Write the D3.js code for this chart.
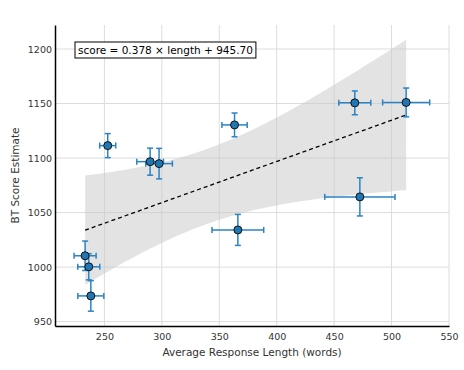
<!DOCTYPE html>
<html>
<head>
<meta charset="utf-8">
<script src="https://cdn.jsdelivr.net/npm/d3@7"></script>
<style>
  body { margin: 0; background: #fff; }
  text { font-family: "DejaVu Sans", Verdana, sans-serif; }
</style>
</head>
<body>
<script>
// response lengths (words) and BT scores per model
var lengths  = [252.9, 289.8, 297.6, 233.2, 236.4, 238.2, 366.2, 363.3, 468.0, 512.7, 472.4];
var scores   = [1111.4, 1096.7, 1094.9, 1010.4, 1000.3, 973.6, 1034.1, 1130.4, 1150.6, 1151.0, 1064.4];
var lengthErr = [7, 11.6, 11.6, 9.6, 9.6, 11.3, 22.5, 11, 13.9, 20.5, 30.6];
var scoreErr  = [11, 12.4, 14, 13.5, 12, 14, 14.2, 10.9, 10.9, 13.2, 17.5];

var slope = 0.378, intercept = 945.70;
var xTicks = [250, 300, 350, 400, 450, 500, 550];
var yTicks = [950, 1000, 1050, 1100, 1150, 1200];

var width = 464, height = 370;
var margin = {left: 55, right: 15, top: 25, bottom: 44};

var svg = d3.select("body").append("svg")
    .attr("width", width)
    .attr("height", height);

var x = d3.scaleLinear()
    .domain([207, 550])
    .range([margin.left, width - margin.right]);

var y = d3.scaleLinear()
    .domain([946, 1222])
    .range([height - margin.bottom, margin.top]);

var data = lengths.map(function (d, i) {
    return {x: d, y: scores[i], ex: lengthErr[i], ey: scoreErr[i]};
});

// grid
svg.append("g").selectAll("line")
    .data(xTicks).enter().append("line")
    .attr("x1", function (d) { return x(d); })
    .attr("x2", function (d) { return x(d); })
    .attr("y1", y.range()[0])
    .attr("y2", y.range()[1])
    .attr("stroke", "#dcdcdc")
    .attr("stroke-width", 1);

svg.append("g").selectAll("line")
    .data(yTicks).enter().append("line")
    .attr("x1", x.range()[0])
    .attr("x2", x.range()[1])
    .attr("y1", function (d) { return y(d); })
    .attr("y2", function (d) { return y(d); })
    .attr("stroke", "#dcdcdc")
    .attr("stroke-width", 1);

// 95% confidence band of the fitted line
var n = data.length;
var mx = d3.mean(lengths);
var sxx = d3.sum(lengths, function (d) { return (d - mx) * (d - mx); });
var sse = d3.sum(data, function (d) {
    var r = d.y - (slope * d.x + intercept);
    return r * r;
});
var s = Math.sqrt(sse / (n - 2));
var tval = 2.262;
var x0 = d3.min(lengths), x1 = d3.max(lengths);
var bandPts = d3.range(0, 61).map(function (i) {
    var xv = x0 + (x1 - x0) * i / 60;
    var se = s * Math.sqrt(1 / n + (xv - mx) * (xv - mx) / sxx);
    var yv = slope * xv + intercept;
    return {x: xv, lo: yv - tval * se, hi: yv + tval * se};
});

svg.append("path")
    .datum(bandPts)
    .attr("d", d3.area()
        .x(function (d) { return x(d.x); })
        .y0(function (d) { return y(d.lo); })
        .y1(function (d) { return y(d.hi); }))
    .attr("fill", "#c8c8c8")
    .attr("fill-opacity", 0.5);

// fit line
svg.append("line")
    .attr("x1", x(x0))
    .attr("x2", x(x1))
    .attr("y1", y(slope * x0 + intercept))
    .attr("y2", y(slope * x1 + intercept))
    .attr("stroke", "#000")
    .attr("stroke-width", 1.3)
    .attr("stroke-dasharray", "4,3");

// error bars
var errColor = "#2b83c6";
var cap = 3;
var eb = svg.append("g")
    .attr("stroke", errColor)
    .attr("stroke-width", 1.5)
    .selectAll("g")
    .data(data).enter().append("g");

eb.append("line")
    .attr("x1", function (d) { return x(d.x - d.ex); })
    .attr("x2", function (d) { return x(d.x + d.ex); })
    .attr("y1", function (d) { return y(d.y); })
    .attr("y2", function (d) { return y(d.y); });
eb.append("line")
    .attr("x1", function (d) { return x(d.x - d.ex); })
    .attr("x2", function (d) { return x(d.x - d.ex); })
    .attr("y1", function (d) { return y(d.y) - cap; })
    .attr("y2", function (d) { return y(d.y) + cap; });
eb.append("line")
    .attr("x1", function (d) { return x(d.x + d.ex); })
    .attr("x2", function (d) { return x(d.x + d.ex); })
    .attr("y1", function (d) { return y(d.y) - cap; })
    .attr("y2", function (d) { return y(d.y) + cap; });
eb.append("line")
    .attr("x1", function (d) { return x(d.x); })
    .attr("x2", function (d) { return x(d.x); })
    .attr("y1", function (d) { return y(d.y - d.ey); })
    .attr("y2", function (d) { return y(d.y + d.ey); });
eb.append("line")
    .attr("x1", function (d) { return x(d.x) - cap; })
    .attr("x2", function (d) { return x(d.x) + cap; })
    .attr("y1", function (d) { return y(d.y - d.ey); })
    .attr("y2", function (d) { return y(d.y - d.ey); });
eb.append("line")
    .attr("x1", function (d) { return x(d.x) - cap; })
    .attr("x2", function (d) { return x(d.x) + cap; })
    .attr("y1", function (d) { return y(d.y + d.ey); })
    .attr("y2", function (d) { return y(d.y + d.ey); });

// points
svg.append("g").selectAll("circle")
    .data(data).enter().append("circle")
    .attr("cx", function (d) { return x(d.x); })
    .attr("cy", function (d) { return y(d.y); })
    .attr("r", 4)
    .attr("fill", "#1f77b4")
    .attr("stroke", "#111")
    .attr("stroke-width", 1);

// axes
var xAxis = svg.append("g")
    .attr("transform", "translate(0," + (height - margin.bottom) + ")")
    .call(d3.axisBottom(x).tickValues(xTicks).tickFormat(d3.format("d")).tickSize(0).tickPadding(7));
var yAxis = svg.append("g")
    .attr("transform", "translate(" + margin.left + ",0)")
    .call(d3.axisLeft(y).tickValues(yTicks).tickFormat(d3.format("d")).tickSize(0).tickPadding(3));

[xAxis, yAxis].forEach(function (a) {
    a.select(".domain").attr("stroke", "#000").attr("stroke-width", 1.5);
    a.selectAll("text")
        .attr("fill", "#333")
        .style("font-size", "9.5px")
        .style("font-family", "'DejaVu Sans', Verdana, sans-serif");
});

svg.append("text")
    .attr("x", (x.range()[0] + x.range()[1]) / 2)
    .attr("y", 356)
    .attr("text-anchor", "middle")
    .attr("fill", "#333")
    .style("font-size", "10.5px")
    .text("Average Response Length (words)");

svg.append("text")
    .attr("transform", "translate(19," + ((y.range()[0] + y.range()[1]) / 2) + ") rotate(-90)")
    .attr("text-anchor", "middle")
    .attr("fill", "#333")
    .style("font-size", "10.5px")
    .text("BT Score Estimate");

// equation box
var eq = svg.append("g").attr("transform", "translate(75,42)");
var eqText = eq.append("text")
    .attr("x", 3)
    .attr("y", 12)
    .attr("fill", "#000")
    .style("font-size", "10.5px")
    .text("score = " + slope.toFixed(3) + " \u00d7 length + " + intercept.toFixed(2));
var bb = eqText.node().getBBox();
eq.insert("rect", "text")
    .attr("x", 0)
    .attr("y", 0)
    .attr("width", bb.width + 6)
    .attr("height", 16)
    .attr("fill", "#fff")
    .attr("stroke", "#000")
    .attr("stroke-width", 1);
</script>
</body>
</html>
